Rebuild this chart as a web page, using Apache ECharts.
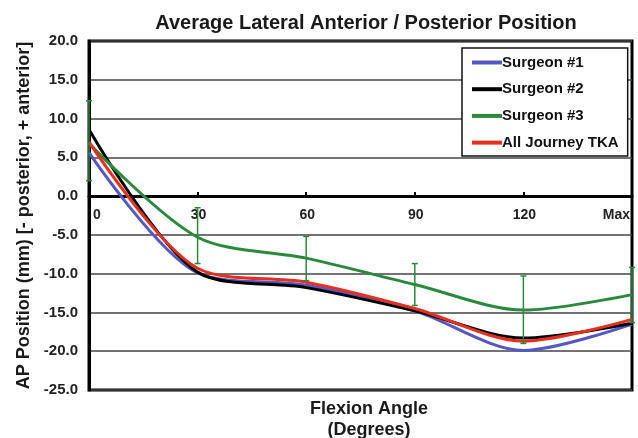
<!DOCTYPE html>
<html>
<head>
<meta charset="utf-8">
<script src="https://cdn.jsdelivr.net/npm/echarts@6/dist/echarts.min.js"></script>
<style>
  html, body { margin: 0; padding: 0; background: #fff; }
  #chart { width: 638px; height: 438px; }
</style>
</head>
<body>
<div id="chart"></div>
<script>
// flexion angle positions, Max drawn at 150
var flexion = [0, 30, 60, 90, 120, 150];
var tickLabels = ['0', '30', '60', '90', '120', 'Max'];

var surgeon1 = [5.6, -9.9, -11.5, -14.8, -19.9, -16.5];
var surgeon2 = [8.6, -9.8, -11.8, -14.8, -18.3, -16.4];
var surgeon3 = [6.8, -5.3, -8.0, -11.4, -14.7, -12.7];
var allJourney = [7.0, -9.3, -11.1, -14.5, -18.7, -15.9];

// surgeon #3 error bars
var s3Upper = [12.3, -1.5, -5.2, -8.7, -10.3, -9.2];
var s3Lower = [2.0, -8.7, -10.9, -14.1, -19.0, -16.3];

var FONT = 'Liberation Sans, Arial, sans-serif';

// grid box
var gridTop = 41, gridBottom = 48, chartHeight = 438;
var yMin = -25, yMax = 20;
// distance from the bottom of the grid up to y = 0
var zeroOffset = (chartHeight - gridTop - gridBottom) * (0 - yMin) / (yMax - yMin);

function pairs(values) {
  return flexion.map(function (x, i) { return [x, values[i]]; });
}

function lineSeries(name, values, color) {
  return {
    name: name,
    type: 'line',
    data: pairs(values),
    smooth: 0.3,
    showSymbol: false,
    symbol: 'none',
    lineStyle: { color: color, width: 3 },
    itemStyle: { color: color },
    z: 3
  };
}

var chart = echarts.init(document.getElementById('chart'), null, { renderer: 'canvas' });

var option = {
  backgroundColor: '#fff',
  animation: false,
  title: [{
    text: 'Average Lateral Anterior / Posterior Position',
    left: 361,
    textAlign: 'center',
    top: 8,
    textStyle: { fontFamily: FONT, fontWeight: 'bold', fontSize: 20, color: '#1a1a1a' }
  }, {
    text: 'Flexion Angle\n(Degrees)',
    left: 364,
    textAlign: 'center',
    top: 394,
    textStyle: { fontFamily: FONT, fontWeight: 'bold', fontSize: 18, color: '#1a1a1a', lineHeight: 21, align: 'center' }
  }],
  legend: {
    orient: 'vertical',
    left: 462,
    top: 48,
    padding: [7, 9, 6, 10],
    itemGap: 11.7,
    itemWidth: 30,
    itemHeight: 4,
    icon: 'rect',
    backgroundColor: '#fff',
    borderColor: '#111',
    borderWidth: 1.5,
    borderRadius: 0,
    data: ['Surgeon #1', 'Surgeon #2', 'Surgeon #3', 'All Journey TKA'],
    textStyle: { fontFamily: FONT, fontWeight: 'bold', fontSize: 15, color: '#111', padding: [0, 0, 0, -5] }
  },
  grid: {
    left: 89,
    right: 6,
    top: gridTop,
    bottom: gridBottom,
    show: true,
    borderColor: '#000',
    borderWidth: 3,
    backgroundColor: 'transparent'
  },
  xAxis: {
    type: 'value',
    min: 0,
    max: 150,
    interval: 30,
    offset: -zeroOffset,
    axisLine: { onZero: false, lineStyle: { color: '#000', width: 3 } },
    axisTick: { show: true, inside: true, length: 4, lineStyle: { color: '#000', width: 2 } },
    splitLine: { show: false },
    axisLabel: {
      margin: 12,
      fontFamily: FONT,
      fontWeight: 'bold',
      fontSize: 14,
      color: '#222',
      alignMinLabel: 'left',
      alignMaxLabel: 'right',
      padding: [0, 2, 0, 4],
      formatter: function (v) {
        var i = flexion.indexOf(v);
        return i >= 0 ? tickLabels[i] : '';
      }
    }
  },
  yAxis: {
    type: 'value',
    min: yMin,
    max: yMax,
    interval: 5,
    name: 'AP Position (mm) [- posterior, + anterior]',
    nameLocation: 'middle',
    nameGap: 56,
    nameTextStyle: { fontFamily: FONT, fontWeight: 'bold', fontSize: 18, color: '#1a1a1a' },
    axisLine: { show: true, lineStyle: { color: '#000', width: 3 } },
    axisTick: { show: false },
    splitLine: { show: true, lineStyle: { color: '#444', width: 1.5 } },
    axisLabel: {
      margin: 11,
      fontFamily: FONT,
      fontWeight: 'bold',
      fontSize: 15,
      color: '#222',
      formatter: function (v) { return v.toFixed(1); }
    }
  },
  series: [
    lineSeries('Surgeon #1', surgeon1, '#5557c2'),
    lineSeries('Surgeon #2', surgeon2, '#000000'),
    {
      name: 'errors',
      type: 'custom',
      data: flexion.map(function (x, i) { return [x, s3Lower[i], s3Upper[i]]; }),
      renderItem: function (params, api) {
        var top = api.coord([api.value(0), api.value(2)]);
        var bot = api.coord([api.value(0), api.value(1)]);
        var style = { stroke: '#2a8a3c', lineWidth: 1.5 };
        return {
          type: 'group',
          children: [
            { type: 'line', shape: { x1: top[0], y1: top[1], x2: bot[0], y2: bot[1] }, style: style },
            { type: 'line', shape: { x1: top[0] - 3, y1: top[1], x2: top[0] + 3, y2: top[1] }, style: style },
            { type: 'line', shape: { x1: bot[0] - 3, y1: bot[1], x2: bot[0] + 3, y2: bot[1] }, style: style }
          ]
        };
      },
      z: 4
    },
    lineSeries('Surgeon #3', surgeon3, '#2a8a3c'),
    lineSeries('All Journey TKA', allJourney, '#e5301f')
  ]
};

chart.setOption(option);
</script>
</body>
</html>
